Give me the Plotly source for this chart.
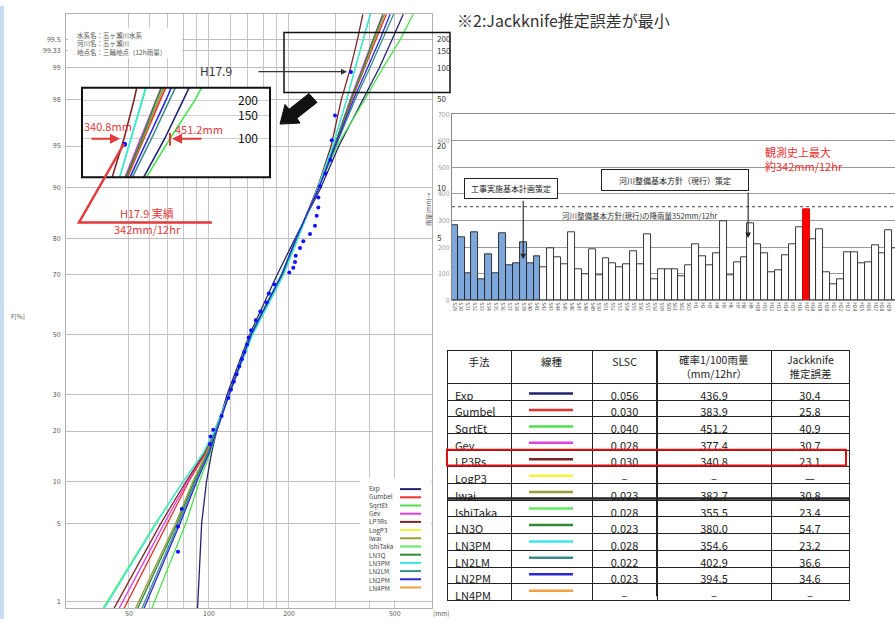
import math
from statistics import NormalDist
import plotly.graph_objects as go

W, H = 895, 623
JP = "Noto Sans CJK JP"

# ---------------- data ----------------
METHODS = ["Exp", "Gumbel", "SqrtEt", "Gev", "LP3Rs", "LogP3", "Iwai", "IshiTaka",
           "LN3Q", "LN3PM", "LN2LM", "LN2PM", "LN4PM"]
LINE_COLORS = ["#23236e", "#e8302c", "#4ee04e", "#e040e0", "#7a2626", "#f2f23a", "#9c9c3c",
               "#62e862", "#2e8a3a", "#3ee6e6", "#3a8c8c", "#2a2ad6", "#f0a040"]

# non-exceedance probability [%] at which fitted curves are read
PROB_LEVELS = [0.85, 5, 10, 15, 20, 30, 50, 70, 80, 85, 90, 95, 98, 99, 99.5, 99.74]
EXP_MM      = [90.6, 93.9, 97.9, 102.2, 106.8, 116.9, 142.2, 180.7, 211.2, 232.9, 263.4, 308, 380, 436.9, 489, 538]
GUMBEL_MM   = [48, 70, 84, 97, 105, 119, 145, 189, 214, 232, 258, 298, 345, 383.9, 425, 465]
SQRTET_MM   = [61, 82, 92, 101, 107, 119, 143, 187, 213, 232, 260, 303, 386, 451.2, 525, 586]
GEV_MM      = [46, 68, 83, 96, 105, 119, 145, 190, 215, 232, 257, 296, 340, 377.4, 414, 450]
LP3RS_MM    = [44, 66, 82, 96, 105, 119, 145, 190, 215, 232, 256, 288, 315, 340.8, 362, 379]
IWAI_MM     = [53, 75, 87, 98, 106, 119, 144, 189, 214, 232, 258, 297, 342, 382.7, 420, 458]
ISHITAKA_MM = [40, 63, 80, 95, 105, 119, 146, 191, 216, 233, 257, 292, 330, 355.5, 382, 405]
LN3Q_MM     = [54, 76, 88, 99, 106, 119, 144, 189, 214, 232, 258, 296, 342, 380.0, 415, 452]
LN3PM_MM    = [40.5, 63.5, 80, 95, 105, 119, 146, 191, 216, 233, 257, 292, 330, 354.6, 380, 404]
LN2LM_MM    = [56, 77, 89, 99, 106, 119, 144, 188, 213, 232, 259, 300, 355, 402.9, 450, 495]
LN2PM_MM    = [57, 78, 90, 100, 107, 119, 144, 188, 213, 232, 259, 298, 350, 394.5, 440, 480]
FIT_MM = {"Exp": EXP_MM, "Gumbel": GUMBEL_MM, "SqrtEt": SQRTET_MM, "Gev": GEV_MM,
          "LP3Rs": LP3RS_MM, "Iwai": IWAI_MM, "IshiTaka": ISHITAKA_MM, "LN3Q": LN3Q_MM,
          "LN3PM": LN3PM_MM, "LN2LM": LN2LM_MM, "LN2PM": LN2PM_MM}

OBS_PROB = [2.9, 4.7, 6.4, 17.0, 18.7, 20.3, 23.9, 29.0, 31.5, 34, 36.5, 39, 41.5, 44, 46.5, 49,
            51.5, 55, 58, 61, 64, 67, 70.6, 72.0, 73.7, 75.4, 77.5, 79.2, 81.0, 82.9, 85.0,
            86.6, 88.4, 90.2, 92, 93.6, 95.5, 97.2, 98.9]
OBS_MM = [76.5, 76.5, 79.0, 100.9, 101.4, 103.8, 111.6, 118.2, 121, 124, 127, 130, 133, 136,
          139, 141, 144, 150, 156, 165, 168, 176, 200.5, 207.6, 210.7, 212, 220, 226.4, 239.9,
          250.5, 254.2, 257.8, 258, 261.6, 274, 286, 289.5, 297.9, 342]

Y_TICK_PROB = [1, 5, 10, 20, 30, 50, 70, 80, 90, 95, 98, 99, 99.333, 99.5]
Y_TICK_TEXT = ["1", "5", "10", "20", "30", "50", "70", "80", "90", "95", "98", "99", "99.33", "99.5"]
X_TICK_MM = [50, 100, 200, 500]
X_GRID_MM = [50, 60, 70, 80, 90, 100, 120, 140, 160, 180, 200, 300, 400, 500]
RP_PROB = [99.5, 99.333, 99, 98, 95, 90, 80]
RP_TEXT = ["200", "150", "100", "50", "20", "10", "5"]
INSET_PROB = [99, 99.333, 99.5]
INSET_TEXT = ["100", "150", "200"]

YEAR_LABELS = ["S29", "S30", "S31", "S32", "S33", "S34", "S35", "S36", "S37", "S38", "S39", "S40",
               "S41", "S42", "S43", "S44", "S45", "S46", "S47", "S48", "S49", "S50", "S51", "S52",
               "S53", "S54", "S55", "S56", "S57", "S58", "S59", "S60", "S61", "S62", "S63",
               "H1", "H2", "H3", "H4", "H5", "H6", "H7", "H8", "H9", "H10", "H11", "H12", "H13",
               "H14", "H15", "H16", "H17", "H18", "H19", "H20", "H21", "H22", "H23", "H24", "H25",
               "H26", "H27", "H28", "H29", "H30"]
RAIN_MM = [281, 238, 100, 256, 78, 174, 103, 253, 132, 140, 218, 138, 165,
           124, 197, 162, 137, 256, 115, 96, 193,
           94, 157, 140, 124, 137, 183, 134, 249, 80, 118, 118, 115, 90, 132, 209, 165, 132, 178,
           297, 95, 143,
           162, 288, 209, 175, 105, 112, 168, 209, 274, 342, 228, 268, 105, 59, 78, 182, 182, 140,
           143, 206, 175, 262, 197]
PLAN_RAIN_MM = 352

TABLE_HEADER = ["手法", "線種", "SLSC", "確率1/100雨量<br>（mm/12hr）", "Jackknife<br>推定誤差"]
SLSC = ["0.056", "0.030", "0.040", "0.028", "0.030", "–", "0.023", "0.028", "0.023", "0.028",
        "0.022", "0.023", "–"]
Q100 = ["436.9", "383.9", "451.2", "377.4", "340.8", "–", "382.7", "355.5", "380.0", "354.6",
        "402.9", "394.5", "–"]
JACKKNIFE = ["30.4", "25.8", "40.9", "30.7", "23.1", "—", "30.8", "23.4", "54.7", "23.2",
             "36.6", "34.6", "–"]


# ---------------- helpers ----------------
def px(x):
    return x / W


def py(y):
    return 1 - y / H


_nd = NormalDist()


def to_z(p):
    """normal-probability paper scale"""
    return _nd.inv_cdf(p / 100.0)


fig = go.Figure()

# main probability plot
for name, color in zip(METHODS, LINE_COLORS):
    if name not in FIT_MM:
        continue
    fig.add_trace(go.Scatter(x=FIT_MM[name], y=[to_z(p) for p in PROB_LEVELS], mode="lines",
                             line=dict(color=color, width=1.3), xaxis="x", yaxis="y",
                             showlegend=False, hoverinfo="skip"))
fig.add_trace(go.Scatter(x=OBS_MM, y=[to_z(p) for p in OBS_PROB], mode="markers",
                         marker=dict(color="#1010ff", size=4), xaxis="x", yaxis="y",
                         showlegend=False, hoverinfo="skip"))
# return-period axis (right)
fig.add_trace(go.Scatter(x=[None], y=[None], xaxis="x", yaxis="y3", showlegend=False))

# magnified inset
for name, color in zip(METHODS, LINE_COLORS):
    if name not in FIT_MM:
        continue
    fig.add_trace(go.Scatter(x=FIT_MM[name], y=[to_z(p) for p in PROB_LEVELS], mode="lines",
                             line=dict(color=color, width=1.6), xaxis="x2", yaxis="y2",
                             showlegend=False, hoverinfo="skip"))
fig.add_trace(go.Scatter(x=OBS_MM, y=[to_z(p) for p in OBS_PROB], mode="markers",
                         marker=dict(color="#1010ff", size=5), xaxis="x2", yaxis="y2",
                         showlegend=False, hoverinfo="skip"))

# annual maximum bar chart
bar_fill = []
bar_line = []
for i, lab in enumerate(YEAR_LABELS):
    if lab == "H17":
        bar_fill.append("#ff0000"); bar_line.append("#d00000")
    elif i < 13:
        bar_fill.append("#7ea7dc"); bar_line.append("#222222")
    else:
        bar_fill.append("white"); bar_line.append("#222222")
fig.add_trace(go.Bar(x=YEAR_LABELS, y=RAIN_MM, marker=dict(color=bar_fill, line=dict(color=bar_line, width=0.9)),
                     xaxis="x4", yaxis="y4", showlegend=False, hoverinfo="skip"))

# table (two-line headers are written as annotations so the header keeps its height)
header_cells = [h if "<br>" not in h else "" for h in TABLE_HEADER]
fig.add_trace(go.Table(
    domain=dict(x=[px(447), px(849)], y=[py(612), py(350)]),
    columnwidth=[64, 81, 65, 114, 78],
    header=dict(values=header_cells, height=33, align="center",
                font=dict(family=JP, size=10.5, color="#222"), fill_color="white",
                line=dict(color="#222", width=1)),
    cells=dict(values=[METHODS, [""] * len(METHODS), SLSC, Q100, JACKKNIFE], height=16.7,
               align=["left", "center", "center", "center", "center"],
               font=dict(family=JP, size=11, color="#222"), fill_color="white",
               line=dict(color="#222", width=1)),
))

z_top, z_bot = 2.798, -2.387
fig.update_layout(
    width=W, height=H, margin=dict(l=0, r=0, t=0, b=0),
    paper_bgcolor="white", plot_bgcolor="white", bargap=0,
    font=dict(family=JP, color="#444"),
    xaxis=dict(type="log", range=[math.log10(29), math.log10(690)], domain=[px(66), px(432)],
               anchor="y", tickmode="array", tickvals=X_TICK_MM, ticktext=[str(v) for v in X_TICK_MM],
               showgrid=True, gridcolor="#c6c6c6", gridwidth=1,
               minor=dict(tickmode="array", tickvals=X_GRID_MM, showgrid=True, gridcolor="#c6c6c6", ticks=""),
               showline=True, mirror=True, linecolor="#b0b0b0", ticks="", zeroline=False,
               ticklabelstandoff=-2, tickfont=dict(size=7, color="#555")),
    yaxis=dict(range=[z_bot, z_top], domain=[py(612), py(8)], anchor="x", tickmode="array",
               tickvals=[to_z(p) for p in Y_TICK_PROB], ticktext=Y_TICK_TEXT,
               showgrid=True, gridcolor="#bdbdbd", gridwidth=1, showline=True, mirror=True,
               linecolor="#b0b0b0", ticks="", zeroline=False, ticklabelstandoff=3,
               tickfont=dict(size=7, color="#555")),
    yaxis3=dict(range=[z_bot, z_top], overlaying="y", side="right", anchor="x", tickmode="array",
                tickvals=[to_z(p) for p in RP_PROB], ticktext=RP_TEXT, showgrid=False, ticks="",
                zeroline=False, tickfont=dict(size=8, color="#333"), ticklabelstandoff=4),
    xaxis2=dict(type="log", range=[2.4211, 2.9198], domain=[px(82), px(270)], anchor="y2",
                showgrid=False, showticklabels=False, ticks="", zeroline=False),
    yaxis2=dict(range=[2.076, 2.659], domain=[py(174), py(83)], anchor="x2", side="right",
                tickmode="array", tickvals=[to_z(p) for p in INSET_PROB], ticktext=INSET_TEXT,
                ticklabelposition="inside", ticklabelstandoff=9, showgrid=True, gridcolor="#cfcfcf",
                ticks="", zeroline=False, tickfont=dict(size=12, color="#111")),
    xaxis4=dict(domain=[px(452), 1.0], anchor="y4", type="category", range=[-0.32, 63.88],
                tickangle=90, tickfont=dict(size=5, color="#555"), showgrid=False, ticks="",
                showline=True, mirror=True, linecolor="#888"),
    yaxis4=dict(domain=[py(299), py(110)], anchor="x4", range=[0, 700], dtick=100,
                showgrid=True, gridcolor="#9a9a9a", gridwidth=1, ticks="", zeroline=False,
                showline=True, linecolor="#888", tickfont=dict(size=7, color="#999")),
)

shapes = []
# light-blue strip at left
shapes.append(dict(type="rect", xref="paper", yref="paper", x0=0, x1=px(4), y0=0, y1=1,
                   fillcolor="#c9dbf0", line=dict(width=0), layer="below"))
# inset background + border
shapes.append(dict(type="rect", xref="x2 domain", yref="y2 domain", x0=0, x1=1, y0=0, y1=1,
                   fillcolor="white", line=dict(width=0), layer="below"))
shapes.append(dict(type="rect", xref="paper", yref="paper", x0=px(82), x1=px(270), y0=py(174), y1=py(83),
                   line=dict(color="#111", width=2)))
# zoom-region box on main chart
shapes.append(dict(type="rect", xref="paper", yref="paper", x0=px(284), x1=px(450), y0=py(88), y1=py(27),
                   line=dict(color="#111", width=1.5)))
# info box & legend box backgrounds
shapes.append(dict(type="rect", xref="paper", yref="paper", x0=px(68), x1=px(182), y0=py(53), y1=py(22),
                   fillcolor="white", line=dict(width=0)))
shapes.append(dict(type="rect", xref="paper", yref="paper", x0=px(360), x1=px(431), y0=py(604), y1=py(480),
                   fillcolor="white", line=dict(width=0)))
# big black arrow
pts = [(317, 98), (297, 114), (300, 119), (280, 120), (285, 100), (289, 105), (309, 89)]
path = "M " + " L ".join(f"{px(x):.5f},{py(y):.5f}" for x, y in pts) + " Z"
shapes.append(dict(type="path", xref="paper", yref="paper", path=path, fillcolor="#111",
                   line=dict(color="#111", width=1)))
# red leader line
rpts = [(124, 140), (79, 220), (212, 220)]
shapes.append(dict(type="path", xref="paper", yref="paper",
                   path="M " + " L ".join(f"{px(x):.5f},{py(y):.5f}" for x, y in rpts),
                   line=dict(color="#e23a3a", width=2.5)))
# red tick at 451.2
shapes.append(dict(type="line", xref="paper", yref="paper", x0=px(170), x1=px(170), y0=py(142), y1=py(129),
                   line=dict(color="#e23a3a", width=2)))
# dashed plan rainfall line in bar chart
shapes.append(dict(type="line", xref="x4 domain", yref="y4", x0=0, x1=1, y0=PLAN_RAIN_MM, y1=PLAN_RAIN_MM,
                   line=dict(color="#666", width=1.2, dash="dot")))
# manual legend line samples
for i, color in enumerate(LINE_COLORS):
    yy = 491 + 8.33 * i
    shapes.append(dict(type="line", xref="paper", yref="paper", x0=px(400), x1=px(421), y0=py(yy), y1=py(yy),
                       line=dict(color=color, width=2)))
# table line samples
for i, color in enumerate(LINE_COLORS):
    yy = 385.5 + 16.7 * (i + 0.5)
    shapes.append(dict(type="line", xref="paper", yref="paper", x0=px(529), x1=px(573), y0=py(yy), y1=py(yy),
                       line=dict(color=color, width=2.5)))
# thicker separator between Iwai and IshiTaka, column separator, red highlight box
shapes.append(dict(type="line", xref="paper", yref="paper", x0=px(447), x1=px(849), y0=py(500.5), y1=py(500.5),
                   line=dict(color="#222", width=2.5)))
shapes.append(dict(type="line", xref="paper", yref="paper", x0=px(657), x1=px(657), y0=py(600), y1=py(350),
                   line=dict(color="#222", width=2)))
shapes.append(dict(type="rect", xref="paper", yref="paper", x0=px(447), x1=px(846), y0=py(467), y1=py(451),
                   line=dict(color="#e01010", width=2)))
fig.update_layout(shapes=shapes)

ann = []


def text(x, y, s, size, color="#444", xanchor="center", yanchor="middle", **kw):
    ann.append(dict(xref="paper", yref="paper", x=px(x), y=py(y), text=s, showarrow=False,
                    xanchor=xanchor, yanchor=yanchor, font=dict(size=size, color=color, family=JP), **kw))


def arrow(x, y, ax, ay, color, width, xref="paper", yref="paper"):
    ann.append(dict(xref=xref, yref=yref, x=x, y=y, ax=ax, ay=ay, text="", showarrow=True,
                    arrowhead=2, arrowsize=1, arrowwidth=width, arrowcolor=color))


text(455, 0, "※2:Jackknife推定誤差が最小", 16, "#333", xanchor="left", yanchor="top")
text(75, 38, "水系名：五ヶ瀬川水系<br>河川名：五ヶ瀬川<br>地点名：三輪地点（12h雨量）", 6.5, "#555",
     xanchor="left", align="left")
text(18, 315, "F[%]", 6.5, "#555")
text(441, 617, "(mm)", 6.5, "#555")
text(216, 66, "H17.9", 12, "#333")
arrow(px(347), py(66.7), -90, 0, "#333", 1.2)
text(108, 122, "340.8mm", 11, "#e23a3a")
text(199, 125, "451.2mm", 11, "#e23a3a")
arrow(px(120), py(135), -30, 0, "#e23a3a", 2)
arrow(px(172), py(135), 31, 0, "#e23a3a", 2)
text(147, 210, "H17.9 実績", 11, "#e23a3a")
text(147, 227, "342mm/12hr", 11, "#e23a3a")
# legend names as one block (line pitch 1.3 em = 8.33 px)
text(367, 491 + 8.33 * 6, "<br>".join(METHODS), 6.4, "#444", xanchor="left", align="left")

# two-line table headers
text(714, 366, TABLE_HEADER[3], 10.5, "#222")
text(810, 366, TABLE_HEADER[4], 10.5, "#222")

# bar chart annotations
ann.append(dict(xref="paper", yref="paper", x=px(510.5), y=py(185), text="工事実施基本計画策定", showarrow=False,
                xanchor="center", yanchor="middle",
                font=dict(size=8, color="#222", family=JP), bordercolor="#222", borderwidth=1,
                bgcolor="white", width=90, height=17, borderpad=1))
ann.append(dict(xref="paper", yref="paper", x=px(675), y=py(176.5), text="河川整備基本方針（現行）策定",
                showarrow=False, xanchor="center", yanchor="middle",
                font=dict(size=8, color="#222", family=JP), bordercolor="#222",
                borderwidth=1, bgcolor="white", width=144, height=18, borderpad=1))
arrow(10, 154, 0, -60, "#222", 1.1, xref="x4", yref="y4")
arrow(42.6, 234, 0, -47, "#222", 1.1, xref="x4", yref="y4")
text(639, 212.5, "河川整備基本方針(現行)の降雨量352mm/12hr", 7.5, "#333")
text(763, 156, "観測史上最大<br>約342mm/12hr", 11, "#e83030", xanchor="left", align="left")
text(429, 207, "雨量(mm)→", 6, "#555", textangle=-90)
fig.update_layout(annotations=ann)

fig.write_html("out.html", config={"displayModeBar": False},
               post_script="document.body.style.margin='0px';document.body.style.overflow='hidden';")
